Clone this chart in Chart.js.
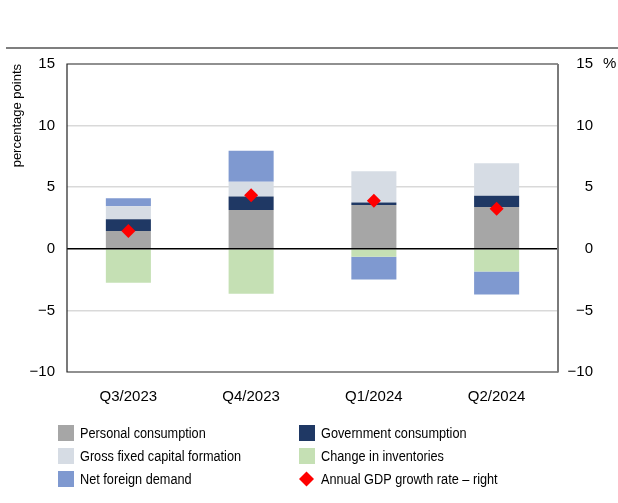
<!DOCTYPE html>
<html lang="en">
<head>
<meta charset="UTF-8">
<title>Contributions to GDP growth</title>
<script src="https://cdn.jsdelivr.net/npm/chart.js@4.4.1/dist/chart.umd.min.js"></script>
<style>
  html, body { margin: 0; padding: 0; background: #fff; }
  .wrap { width: 618px; height: 503px; }
</style>
</head>
<body>
<div class="wrap"><canvas id="chart" width="618" height="503"></canvas></div>
<script>
// data
const quarters = ['Q3/2023', 'Q4/2023', 'Q1/2024', 'Q2/2024'];
const personal = [1.45, 3.15, 3.55, 3.4];
const government = [0.95, 1.1, 0.2, 0.9];
const grossFixed = [1.05, 1.2, 2.55, 2.65];
const inventories = [-2.75, -3.65, -0.65, -1.85];
const netForeign = [0.65, 2.5, -1.85, -1.85];
const gdpGrowth = [1.45, 4.35, 3.9, 3.25];
const axisMin = -10, axisMax = 15, axisStep = 5;

const FONT = '"Liberation Sans", Arial, sans-serif';
const fmt = v => (v < 0 ? '\u2212' + Math.abs(v) : '' + v);

const frame = {
  id: 'frame',
  afterDatasetsDraw(chart) {
    const { ctx, chartArea: a, scales } = chart;
    const y0 = scales.y.getPixelForValue(0);
    ctx.save();
    // zero line
    ctx.strokeStyle = '#000';
    ctx.lineWidth = 1.5;
    ctx.beginPath();
    ctx.moveTo(a.left, y0); ctx.lineTo(a.right, y0);
    ctx.stroke();
    // box
    ctx.lineWidth = 1.2;
    ctx.strokeStyle = '#222';
    ctx.beginPath();
    ctx.moveTo(a.right, a.top); ctx.lineTo(a.left, a.top);
    ctx.lineTo(a.left, a.bottom); ctx.lineTo(a.right, a.bottom);
    ctx.stroke();
    ctx.strokeStyle = '#7a7a7a';
    ctx.lineWidth = 2;
    ctx.beginPath();
    ctx.moveTo(a.right, a.top); ctx.lineTo(a.right, a.bottom + 0.6);
    ctx.stroke();
    ctx.restore();
  },
  afterDraw(chart) {
    const { ctx, chartArea: a } = chart;
    ctx.save();
    // rule at the very top
    ctx.strokeStyle = '#555';
    ctx.lineWidth = 1.5;
    ctx.beginPath();
    ctx.moveTo(6, 48); ctx.lineTo(618, 48);
    ctx.stroke();
    // unit of the right axis
    ctx.fillStyle = '#000';
    ctx.font = '15px ' + FONT;
    ctx.textBaseline = 'middle';
    ctx.fillText('%', 603, a.top);
    // legend, two columns; text squeezed to look like the narrow face
    ctx.font = '15.5px ' + FONT;
    chart.data.datasets.forEach((ds, i) => {
      const x = i % 2 === 0 ? 58 : 299;
      const y = 433 + Math.floor(i / 2) * 23;
      ctx.fillStyle = ds.backgroundColor;
      if (ds.type === 'line') {
        ctx.beginPath();
        ctx.moveTo(x + 7.5, y - 7.5); ctx.lineTo(x + 15, y);
        ctx.lineTo(x + 7.5, y + 7.5); ctx.lineTo(x, y);
        ctx.closePath(); ctx.fill();
      } else {
        ctx.fillRect(x, y - 8, 16, 16);
      }
      ctx.fillStyle = '#000';
      ctx.save();
      ctx.translate(x + 22, y + 1);
      ctx.scale(0.82, 1);
      ctx.fillText(ds.label, 0, 0);
      ctx.restore();
    });
    ctx.restore();
  }
};

new Chart(document.getElementById('chart'), {
  type: 'bar',
  data: {
    labels: quarters,
    datasets: [
      { label: 'Personal consumption', data: personal, backgroundColor: '#a6a6a6' },
      { label: 'Government consumption', data: government, backgroundColor: '#1f3864' },
      { label: 'Gross fixed capital formation', data: grossFixed, backgroundColor: '#d6dce4' },
      { label: 'Change in inventories', data: inventories, backgroundColor: '#c5e0b4' },
      { label: 'Net foreign demand', data: netForeign, backgroundColor: '#7f99d0' },
      {
        type: 'line', label: 'Annual GDP growth rate \u2013 right', data: gdpGrowth,
        yAxisID: 'y1', showLine: false, pointStyle: 'rectRot', pointRadius: 7,
        backgroundColor: '#ff0000', borderColor: '#ff0000', borderWidth: 0, order: -1
      }
    ]
  },
  options: {
    responsive: false,
    devicePixelRatio: 1,
    animation: false,
    datasets: { bar: { barPercentage: 0.367, categoryPercentage: 1, borderWidth: 0 } },
    layout: { padding: { top: 64, right: 25, left: 0, bottom: 0 } },
    plugins: { legend: { display: false }, tooltip: { enabled: false } },
    scales: {
      x: {
        stacked: true,
        grid: { display: false },
        border: { display: false },
        ticks: { color: '#000', font: { family: FONT, size: 15 }, padding: 8 },
        afterFit: s => { s.height = 131; }
      },
      y: {
        stacked: true,
        min: axisMin, max: axisMax,
        border: { display: false },
        grid: {
          drawTicks: false,
          color: c => (c.tick.value > axisMin && c.tick.value < axisMax && c.tick.value !== 0) ? '#d9d9d9' : 'rgba(0,0,0,0)',
          lineWidth: 1.5
        },
        ticks: { stepSize: axisStep, color: '#000', padding: 12, font: { family: FONT, size: 15 }, callback: v => fmt(v) },
        title: { display: true, text: 'percentage points', align: 'end', color: '#000', font: { family: FONT, size: 13 }, padding: { top: 10, bottom: 0 } },
        afterFit: s => { s.width = 67; }
      },
      y1: {
        position: 'right',
        min: axisMin, max: axisMax,
        border: { display: false },
        grid: { display: false, drawTicks: false },
        ticks: { stepSize: axisStep, color: '#000', crossAlign: 'far', font: { family: FONT, size: 15 }, callback: v => fmt(v) },
        afterFit: s => { s.width = 35; }
      }
    }
  },
  plugins: [frame]
});
</script>
</body>
</html>
